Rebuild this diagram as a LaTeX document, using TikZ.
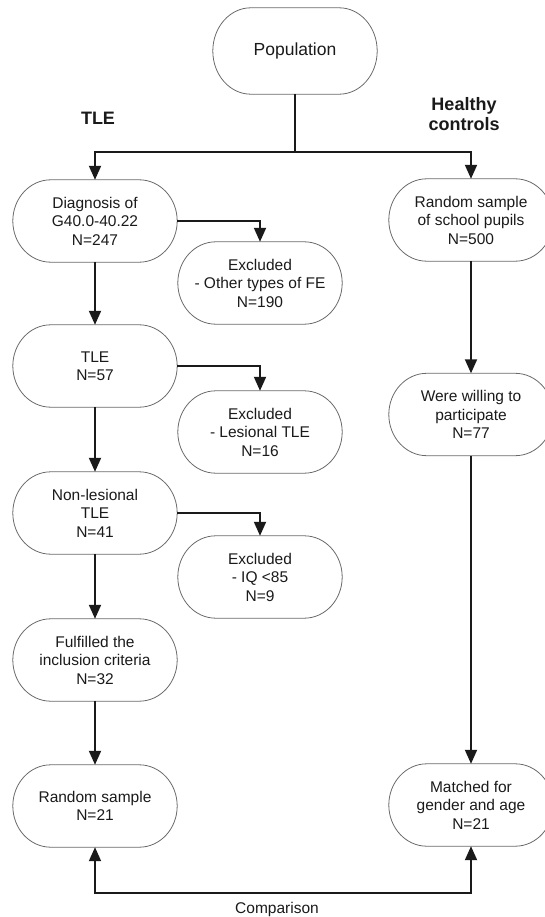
\documentclass[tikz,border=0pt]{standalone}
\usepackage{fontspec}
\setmainfont{Liberation Sans}
\usetikzlibrary{arrows.meta,calc}
\definecolor{ink}{HTML}{1A1A1A}
\definecolor{outline}{HTML}{6A6A6A}
\tikzset{
  box/.style={rectangle, draw=none, minimum width=164pt, minimum height=82pt, inner sep=0pt,
    align=center, text=ink, font=\fontsize{15.5pt}{18.5pt}\selectfont},
  boxline/.style={draw=outline, line width=0.8pt},
  conn/.style={draw=ink, line width=1.9pt},
  arr/.style={conn, -{Triangle[length=14pt,width=12pt]}},
  grouplbl/.style={align=center, text=ink, font=\fontsize{18pt}{20pt}\selectfont\bfseries},
  plainlbl/.style={text=ink, font=\fontsize{15.5pt}{18pt}\selectfont}
}
\newcommand\drawstad[1]{%
  \path let \p1=(#1.north west), \p2=(#1.south east), \n1={0.5*(\y1-\y2)} in
    [boxline] ([xshift=38pt]#1.north west) -- ([xshift=-38pt]#1.north east)
    arc[start angle=90,end angle=-90,x radius=38pt,y radius=\n1]
    -- ([xshift=38pt]#1.south west)
    arc[start angle=270,end angle=90,x radius=38pt,y radius=\n1] -- cycle;}
\begin{document}
\begin{tikzpicture}[x=1pt,y=-1pt]
\useasboundingbox (0,0) rectangle (544,917);
% nodes
\node[box, minimum height=86pt, font=\fontsize{17.5pt}{20pt}\selectfont] (pop) at (295,51) {Population};
\node[grouplbl] (tlelbl) at (98,118.5) {TLE};
\node[grouplbl] (hclbl) at (464,114) {Healthy\\controls};
\node[box] (diag) at (95,221) {Diagnosis of\\G40.0-40.22\\N=247};
\node[box] (pupils) at (471,220) {Random sample\\of school pupils\\N=500};
\node[box] (ex1) at (260,283) {Excluded\\- Other types of FE\\N=190};
\node[box] (tle) at (95,366) {TLE\\N=57};
\node[box] (ex2) at (260,432) {Excluded\\- Lesional TLE\\N=16};
\node[box] (will) at (471,414.5) {Were willing to\\participate\\N=77};
\node[box] (nonles) at (95,513) {Non-lesional\\TLE\\N=41};
\node[box] (ex3) at (260,577) {Excluded\\- IQ <85\\N=9};
\node[box] (ful) at (95,660) {Fulfilled the\\inclusion criteria\\N=32};
\node[box] (rand) at (95,806) {Random sample\\N=21};
\node[box] (match) at (471,805) {Matched for\\gender and age\\N=21};
\node[plainlbl, anchor=base] (cmplbl) at (277,913) {Comparison};
% outlines
\drawstad{pop}
\drawstad{diag}
\drawstad{pupils}
\drawstad{ex1}
\drawstad{tle}
\drawstad{ex2}
\drawstad{will}
\drawstad{nonles}
\drawstad{ex3}
\drawstad{ful}
\drawstad{rand}
\drawstad{match}
% connectors
\coordinate (split) at (295,152);
\coordinate (cmp) at (277,893);
\draw[conn] (pop.south) -- (split);
\draw[arr] (split) -| (diag.north);
\draw[arr] (split) -| (pupils.north);
\draw[arr] (diag.east) -| (ex1.north);
\draw[arr] (diag.south) -- (tle.north);
\draw[arr] (tle.east) -| (ex2.north);
\draw[arr] (tle.south) -- (nonles.north);
\draw[arr] (nonles.east) -| (ex3.north);
\draw[arr] (nonles.south) -- (ful.north);
\draw[arr] (ful.south) -- (rand.north);
\draw[arr] (pupils.south) -- (will.north);
\draw[arr] (will.south) -- (match.north);
\draw[arr] (cmp) -| (rand.south);
\draw[arr] (cmp) -| (match.south);
\end{tikzpicture}
\end{document}
